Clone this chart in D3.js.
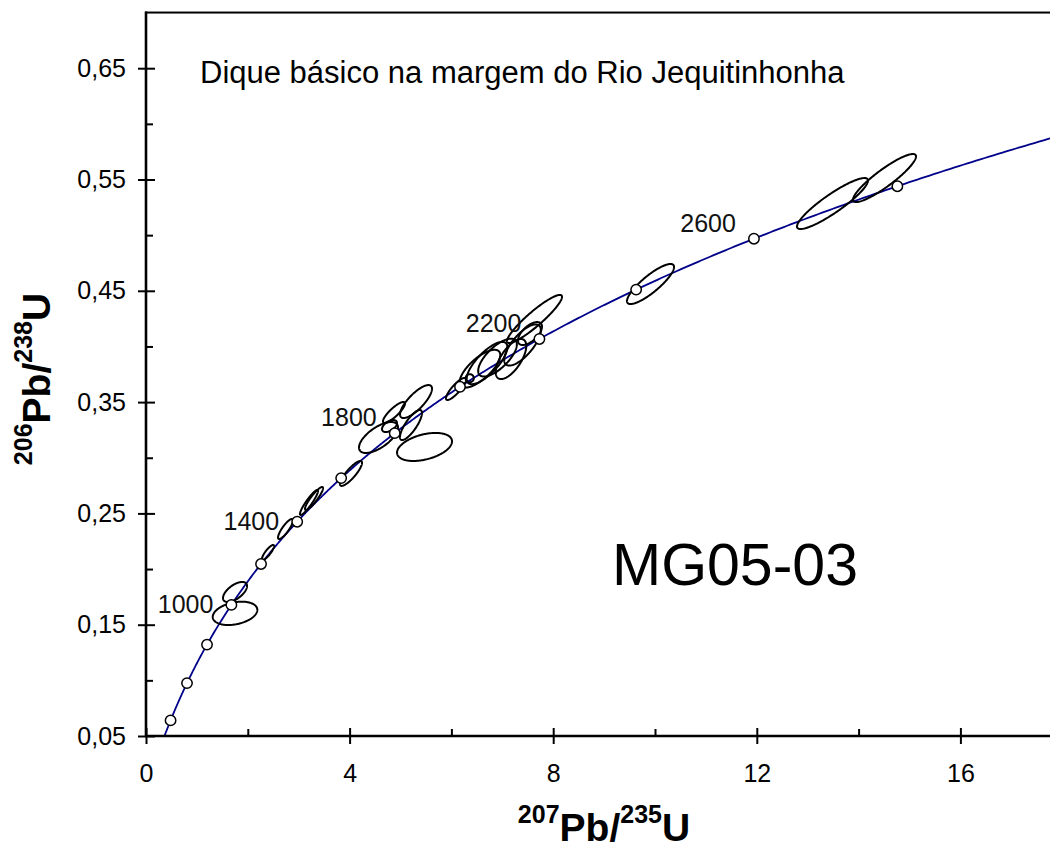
<!DOCTYPE html>
<html><head><meta charset="utf-8">
<script src="https://cdn.jsdelivr.net/npm/d3@7"></script>
<style>
body{margin:0;background:#fff}
svg{display:block;font-family:"Liberation Sans",Arial,Helvetica,sans-serif}
</style>
</head><body>
<svg id="chart" width="1050" height="849"></svg>
<script>
// ---- data ----
const xTicks = [0, 4, 8, 12, 16];
const xMinorTicks = [2, 6, 10, 14];
const yTicks = [0.05, 0.15, 0.25, 0.35, 0.45, 0.55, 0.65];
const yMinorTicks = [0.10, 0.20, 0.30, 0.40, 0.50, 0.60];
const markerAges = [400, 600, 800, 1000, 1200, 1400, 1600, 1800, 2000, 2200, 2400, 2600, 2800];
const labelAges = [1000, 1400, 1800, 2200, 2600];
// error ellipses: centre 207Pb/235U, centre 206Pb/238U, half-widths, error correlation
const ellX   = [1.749, 1.749, 2.397, 2.741, 3.202, 3.301, 4.028, 4.568, 4.784, 4.872, 5.206, 5.305, 5.472, 6.090, 6.360, 6.560, 6.700, 6.906, 7.171, 7.397, 7.544, 7.633, 9.912, 13.487, 14.509];
const ellY   = [0.1602, 0.1794, 0.2149, 0.2360, 0.2598, 0.2634, 0.2859, 0.3182, 0.3285, 0.3407, 0.3294, 0.3505, 0.3097, 0.3618, 0.3715, 0.3800, 0.3851, 0.3900, 0.3887, 0.4013, 0.4116, 0.4247, 0.4561, 0.5284, 0.5513];
const ellSX  = [0.438, 0.236, 0.118, 0.147, 0.177, 0.177, 0.216, 0.383, 0.147, 0.216, 0.216, 0.314, 0.540, 0.196, 0.080, 0.400, 0.400, 0.380, 0.300, 0.360, 0.236, 0.540, 0.462, 0.697, 0.619];
const ellSY  = [0.0105, 0.0090, 0.0067, 0.0090, 0.0112, 0.0103, 0.0112, 0.0139, 0.0054, 0.0094, 0.0135, 0.0148, 0.0126, 0.0099, 0.0036, 0.0170, 0.0190, 0.0170, 0.0180, 0.0185, 0.0103, 0.0216, 0.0180, 0.0229, 0.0216];
const ellRho = [0.30, 0.60, 0.85, 0.85, 0.92, 0.90, 0.85, 0.65, 0.50, 0.85, 0.80, 0.78, 0.40, 0.85, 0.00, 0.72, 0.75, 0.70, 0.65, 0.72, 0.60, 0.92, 0.85, 0.90, 0.90];
const titleText = "Dique básico na margem do Rio Jequitinhonha";
const sampleName = "MG05-03";
const xLabel = [["207", true], ["Pb/", false], ["235", true], ["U", false]];
const yLabel = [["206", true], ["Pb/", false], ["238", true], ["U", false]];

// decay constants
const L238 = 1.55125e-10, L235 = 9.8485e-10;
const conc = t => [Math.exp(L235 * t * 1e6) - 1, Math.exp(L238 * t * 1e6) - 1];

const svg = d3.select("#chart");
const x = d3.scaleLinear().domain([0, 18]).range([146, 1062.2]);
const y = d3.scaleLinear().domain([0.05, 0.70]).range([736, 12.55]);
const fmt = v => d3.format(".2f")(v).replace(".", ",");

svg.append("defs").append("clipPath").attr("id", "plotclip")
  .append("rect").attr("x", x(0)).attr("y", y(0.70))
  .attr("width", x(18) - x(0)).attr("height", y(0.05) - y(0.70));

const plot = svg.append("g").attr("clip-path", "url(#plotclip)");

// concordia curve
const ages = d3.range(0, 3300, 5);
plot.append("path")
  .datum(ages.map(conc))
  .attr("fill", "none").attr("stroke", "#00008B").attr("stroke-width", 1.8)
  .attr("d", d3.line().x(d => x(d[0])).y(d => y(d[1])));

// error ellipses
const phis = d3.range(0, 2 * Math.PI, Math.PI / 90);
const ellLine = d3.line().x(d => x(d[0])).y(d => y(d[1])).curve(d3.curveLinearClosed);
ellX.forEach((cx, i) => {
  const sx = ellSX[i], sy = ellSY[i], r = ellRho[i], cy = ellY[i];
  const pts = phis.map(p => [cx + sx * Math.cos(p), cy + sy * (r * Math.cos(p) + Math.sqrt(1 - r * r) * Math.sin(p))]);
  plot.append("path").datum(pts).attr("d", ellLine)
    .attr("fill", "none").attr("stroke", "#000").attr("stroke-width", 2);
});

// age markers
plot.selectAll("circle.age").data(markerAges).enter().append("circle")
  .attr("class", "age")
  .attr("cx", a => x(conc(a)[0])).attr("cy", a => y(conc(a)[1]))
  .attr("r", 5.2).attr("fill", "#fff").attr("stroke", "#000").attr("stroke-width", 1.5);

// age labels
svg.selectAll("text.agelab").data(labelAges).enter().append("text")
  .attr("class", "agelab")
  .attr("x", a => x(conc(a)[0]) - 18)
  .attr("y", a => y(conc(a)[1]) + (a < 1600 ? 8 : -7))
  .attr("text-anchor", "end").attr("font-size", 25).attr("fill", "#111")
  .text(a => a);

// frame
svg.append("rect").attr("x", x(0)).attr("y", y(0.70))
  .attr("width", x(18) - x(0)).attr("height", y(0.05) - y(0.70))
  .attr("fill", "none").attr("stroke", "#000").attr("stroke-width", 2);

// axes
function styleAxis(g) {
  g.select(".domain").remove();
  g.selectAll(".tick line").attr("stroke", "#000").attr("stroke-width", 2);
  g.selectAll(".tick text").attr("font-size", 25).attr("fill", "#000")
    .attr("font-family", '"Liberation Sans",Arial,sans-serif');
}
svg.append("g").attr("transform", `translate(${x(0)},0)`)
  .call(d3.axisLeft(y).tickValues(yTicks).tickFormat(fmt).tickSizeInner(8).tickSizeOuter(0).tickPadding(12))
  .call(styleAxis);
svg.append("g").attr("transform", `translate(${x(0)},0)`)
  .call(d3.axisLeft(y).tickValues(yTicks).tickFormat("").tickSizeInner(-9).tickSizeOuter(0))
  .call(styleAxis);
svg.append("g").attr("transform", `translate(${x(0)},0)`)
  .call(d3.axisLeft(y).tickValues(yMinorTicks).tickFormat("").tickSizeInner(-7).tickSizeOuter(0))
  .call(styleAxis);
svg.append("g").attr("transform", `translate(0,${y(0.05)})`)
  .call(d3.axisBottom(x).tickValues(xTicks).tickFormat(d => d).tickSizeInner(8).tickSizeOuter(0).tickPadding(20))
  .call(styleAxis);
svg.append("g").attr("transform", `translate(0,${y(0.05)})`)
  .call(d3.axisBottom(x).tickValues(xTicks).tickFormat("").tickSizeInner(-8).tickSizeOuter(0))
  .call(styleAxis);
svg.append("g").attr("transform", `translate(0,${y(0.05)})`)
  .call(d3.axisBottom(x).tickValues(xMinorTicks).tickFormat("").tickSizeInner(-7).tickSizeOuter(0))
  .call(styleAxis);
// axis lines (thicker)
svg.append("line").attr("x1", x(0)).attr("x2", x(0)).attr("y1", y(0.70) - 1).attr("y2", y(0.05) + 1)
  .attr("stroke", "#000").attr("stroke-width", 2.6);
svg.append("line").attr("x1", x(0) - 1).attr("x2", x(18)).attr("y1", y(0.05)).attr("y2", y(0.05))
  .attr("stroke", "#000").attr("stroke-width", 2.6);

// title & sample name
svg.append("text").attr("x", 200).attr("y", 83).attr("font-size", 31).attr("fill", "#000").text(titleText);
svg.append("text").attr("x", 612).attr("y", 585).attr("font-size", 59).attr("fill", "#000").text(sampleName);

// axis titles
const xl = svg.append("text").attr("x", 604).attr("y", 841)
  .attr("text-anchor", "middle").attr("font-weight", "bold").attr("fill", "#000");
xLabel.forEach(([s, sup], i) => {
  xl.append("tspan").attr("font-size", sup ? 25 : 39)
    .attr("dy", i === 0 ? -18 : (sup ? -18 : 18)).text(s);
});
const yl = svg.append("text").attr("transform", "translate(50,379) rotate(-90)")
  .attr("text-anchor", "middle").attr("font-weight", "bold").attr("fill", "#000");
yLabel.forEach(([s, sup], i) => {
  yl.append("tspan").attr("font-size", sup ? 25 : 39)
    .attr("dy", i === 0 ? -18 : (sup ? -18 : 18)).text(s);
});
</script>
</body></html>
